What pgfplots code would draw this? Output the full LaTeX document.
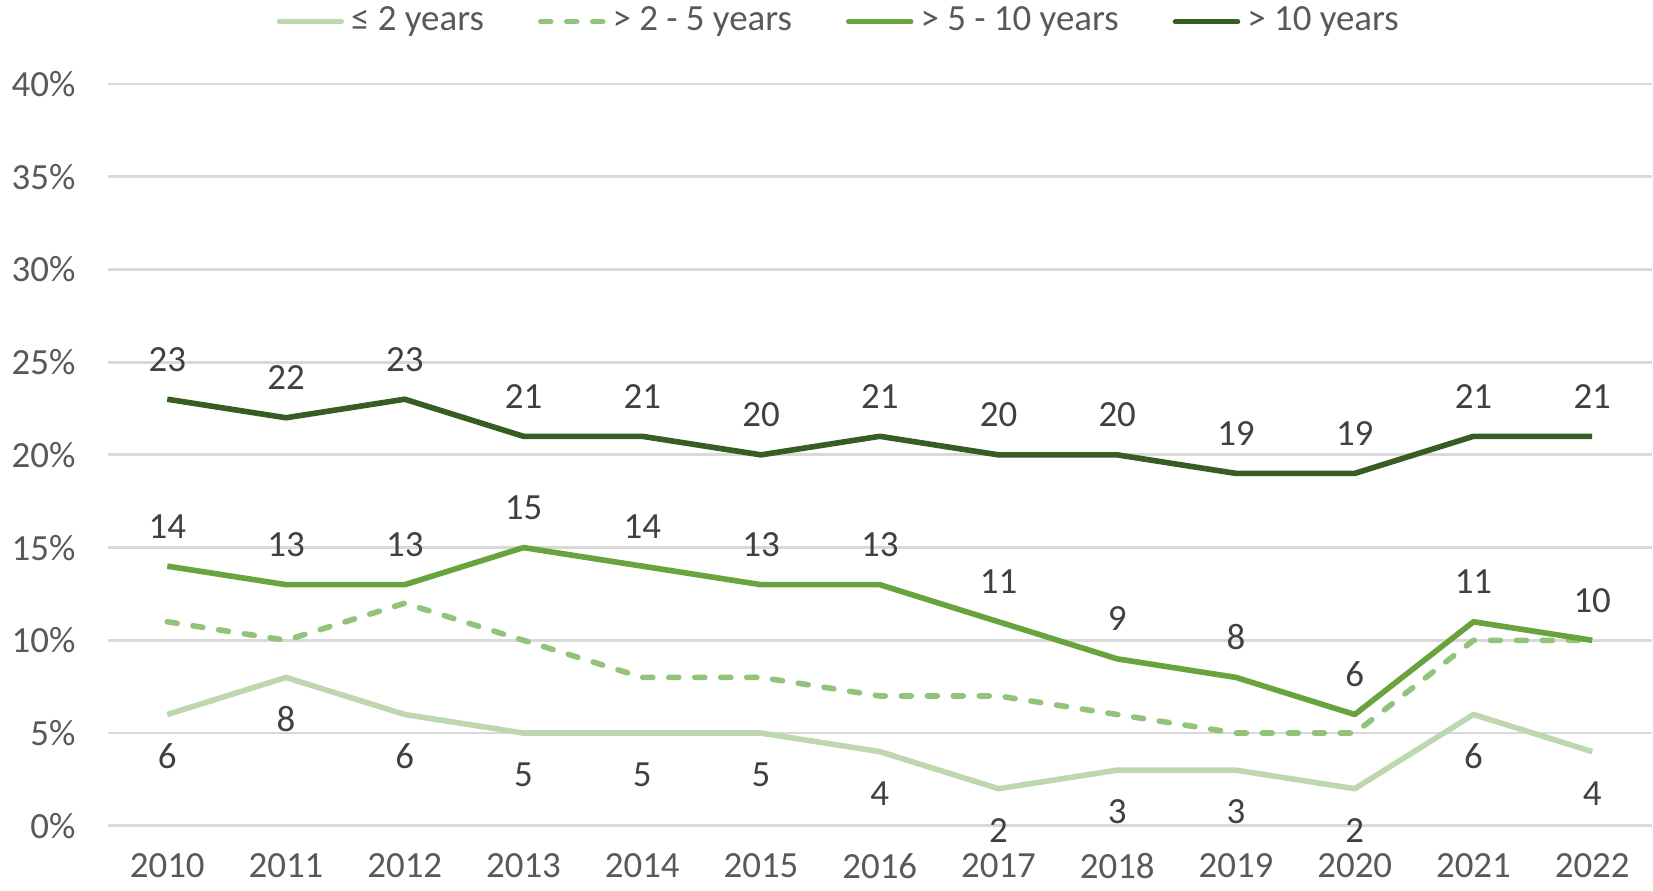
\documentclass[border=0pt]{standalone}
\usepackage{pgfplots}
\pgfplotsset{compat=1.18}
\usepackage{fontspec}
\setmainfont{Carlito}
\definecolor{gLight}{HTML}{BDD8AF}
\definecolor{gDash}{HTML}{93C27B}
\definecolor{gMid}{HTML}{68A33E}
\definecolor{gDark}{HTML}{385D22}
\definecolor{tickgray}{HTML}{595959}
\definecolor{lblgray}{HTML}{404040}
\definecolor{gridgray}{HTML}{D9D9D9}
\begin{document}
\begin{tikzpicture}
\begin{axis}[
scale only axis,
width=15.44cm, height=7.42cm,
xmin=-0.5, xmax=12.5,
ymin=0, ymax=40,
xtick={0,...,12},
xticklabels={2010,2011,2012,2013,2014,2015,2016,2017,2018,2019,2020,2021,2022},
ytick={0,5,...,40},
yticklabel={\pgfmathprintnumber{\tick}\%},
/pgf/number format/assume math mode=true,
axis line style={draw=none},
major tick length=0pt,
ymajorgrids,
grid style={gridgray, line width=0.8pt},
tick label style={font=\fontsize{10.5}{12}\selectfont, text=tickgray},
yticklabel style={xshift=-0.2cm},
xticklabel style={yshift=-0.15cm},
legend style={at={(0.475,1.084)}, anchor=center, draw=none, legend columns=-1,
  inner sep=0pt, outer sep=0pt,
  font=\fontsize{10.5}{12}\selectfont, text=tickgray,
  /tikz/every even column/.append style={column sep=0.47cm}},
legend image code/.code={\draw[#1, line cap=round] (0cm,0cm) -- (0.62cm,0cm);},
every node near coord/.append style={font=\fontsize{10.5}{12}\selectfont, text=lblgray, anchor=center},
clip=false,
]
\addplot[gLight, line width=1.6pt, line join=round, nodes near coords,
  every node near coord/.append style={yshift=-0.42cm}] coordinates {
(0,6) (1,8) (2,6) (3,5) (4,5) (5,5) (6,4) (7,2) (8,3) (9,3) (10,2) (11,6) (12,4)
};
\addplot[gDash, line width=1.6pt, line join=round, line cap=round, dash pattern=on 0.1cm off 0.16cm] coordinates {
(0,11) (1,10) (2,12) (3,10) (4,8) (5,8) (6,7) (7,7) (8,6) (9,5) (10,5) (11,10) (12,10)
};
\addplot[gMid, line width=1.6pt, line join=round, nodes near coords,
  every node near coord/.append style={yshift=0.4cm}] coordinates {
(0,14) (1,13) (2,13) (3,15) (4,14) (5,13) (6,13) (7,11) (8,9) (9,8) (10,6) (11,11) (12,10)
};
\addplot[gDark, line width=1.6pt, line join=round, nodes near coords,
  every node near coord/.append style={yshift=0.4cm}] coordinates {
(0,23) (1,22) (2,23) (3,21) (4,21) (5,20) (6,21) (7,20) (8,20) (9,19) (10,19) (11,21) (12,21)
};
\legend{≤ 2 years, > 2 - 5 years, > 5 - 10 years, > 10 years}
\end{axis}
\end{tikzpicture}
\end{document}
